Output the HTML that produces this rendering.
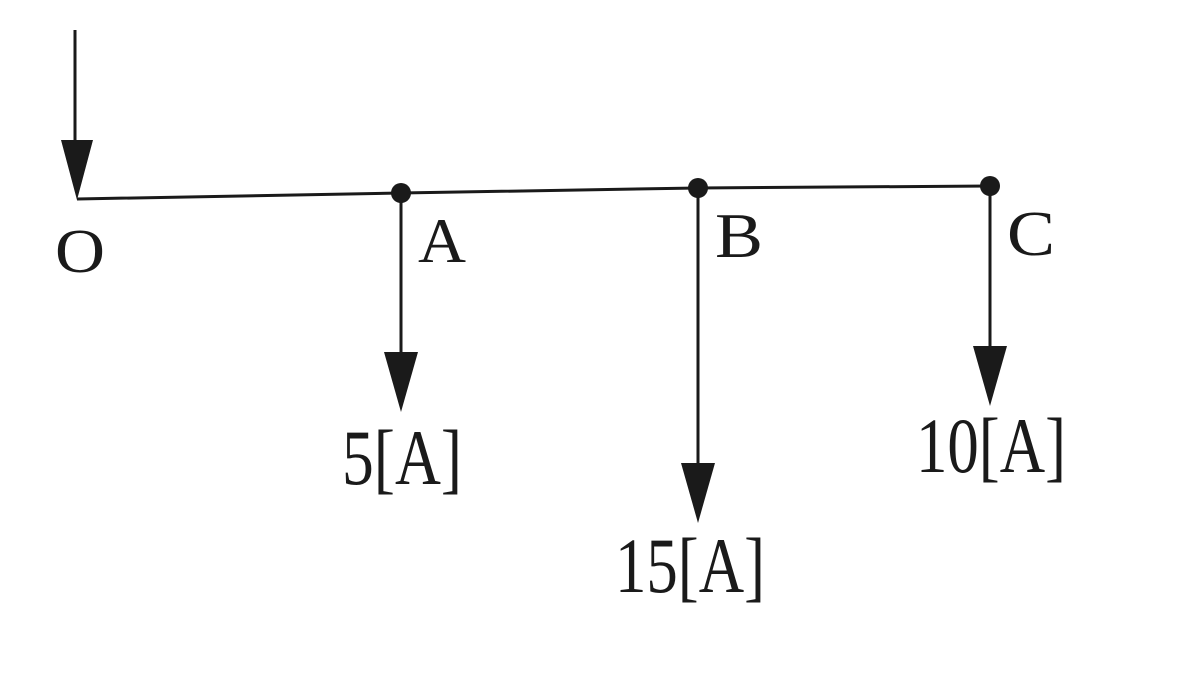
<!DOCTYPE html>
<html><head><meta charset="utf-8">
<style>
html,body{margin:0;padding:0;background:#fff;width:1178px;height:686px;overflow:hidden}
svg{display:block}
text{font-family:"Liberation Serif","DejaVu Serif",serif;fill:#1a1a1a}
</style></head>
<body>
<svg id="d" width="1178" height="686" viewBox="0 0 1178 686"></svg>
<script>
// data
const nodeNames = ["A", "B", "C"];
const loadCurrents = [5, 15, 10];
const loadUnits = ["[A]", "[A]", "[A]"];
// geometry (layout, not data)
const nodeX = [401, 698, 990];
const nodeY = [193, 188, 186];
const arrowEnd = [412, 523, 406];
const labelY = [484, 592, 472];
const labelDX = [1, -8, 1];

const NS = "http://www.w3.org/2000/svg";
const svg = document.getElementById("d");
function mk(tag, attrs) {
  const e = document.createElementNS(NS, tag);
  for (const k in attrs) e.setAttribute(k, attrs[k]);
  svg.appendChild(e);
  return e;
}
const stroke = "#1a1a1a";

let e = mk("line", {x1: 75, y1: 30, x2: 75, y2: 150, stroke: stroke, "stroke-width": 3});


e = mk("polygon", {points: "61,140 93,140 77,200", fill: stroke});



e = mk("polyline", {points: "77,199 " + nodeX.map((x, i) => x + "," + nodeY[i]).join(" "), fill: "none", stroke: stroke, "stroke-width": 3});



e = mk("text", {x: 55, y: 272, "font-size": 62, textLength: 50, lengthAdjust: "spacingAndGlyphs"});
e.textContent = "O";



nodeNames.forEach((n, i) => {
  const x = nodeX[i], y = nodeY[i];
  let el = mk("line", {x1: x, y1: y, x2: x, y2: arrowEnd[i] - 50, stroke: stroke, "stroke-width": 3});
  
  
  el = mk("polygon", {points: (x - 17) + "," + (arrowEnd[i] - 60) + " " + (x + 17) + "," + (arrowEnd[i] - 60) + " " + x + "," + arrowEnd[i], fill: stroke});
  
  
  el = mk("circle", {cx: x, cy: y, r: 10, fill: stroke});
  
  
  el = mk("text", {x: x + 17, y: y + 69, "font-size": 64, textLength: 48, lengthAdjust: "spacingAndGlyphs"});
  el.textContent = n;
  
  
  const s = loadCurrents[i] + loadUnits[i];
  const w = s.length * 30;
  el = mk("text", {x: x + labelDX[i], y: labelY[i], "font-size": 78, "text-anchor": "middle", textLength: w, lengthAdjust: "spacingAndGlyphs"});
  el.textContent = s;
  
  
});
</script>
</body></html>
